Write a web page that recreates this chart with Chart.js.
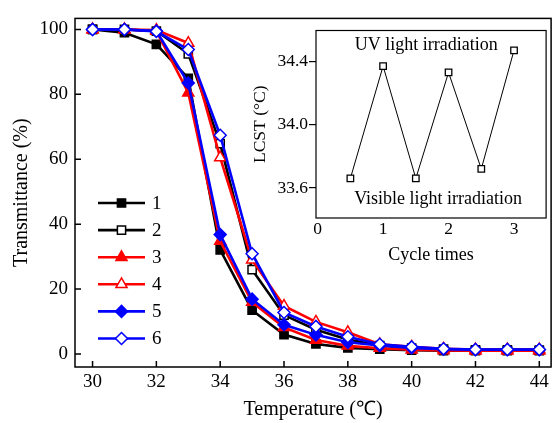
<!DOCTYPE html>
<html>
<head>
<meta charset="utf-8">
<script src="https://cdn.jsdelivr.net/npm/chart.js@4.4.0/dist/chart.umd.min.js"></script>
<style>
  html, body { margin: 0; padding: 0; background: #fff; }
  #wrap { position: relative; width: 559px; height: 423px; }
  #main { position: absolute; left: 0; top: 0; width: 559px; height: 423px; }
  #inset { position: absolute; left: 240px; top: 19px; width: 312px; height: 256px; }
</style>
</head>
<body>
<div id="wrap">
  <canvas id="main" width="559" height="423"></canvas>
  <canvas id="inset" width="312" height="256"></canvas>
</div>
<script>
// Data
const temps = [30, 31, 32, 33, 34, 35, 36, 37, 38, 39, 40, 41, 42, 43, 44];
const s1 = [100, 99, 95.4, 84.9, 32.1, 13.5, 6.0, 3.1, 1.9, 1.5, 1.2, 1.0, 1.0, 1.0, 1.0];
const s2 = [100, 100, 99.5, 92.5, 64.8, 26.0, 12.0, 7.5, 4.5, 2.6, 1.8, 1.5, 1.3, 1.3, 1.2];
const s3 = [100, 100, 99.5, 80.5, 34.8, 16.0, 8.2, 4.3, 2.5, 1.8, 1.3, 1.1, 1.0, 1.0, 1.0];
const s4 = [100, 100, 99.8, 95.8, 60.5, 29.0, 14.8, 9.9, 6.7, 3.0, 2.2, 1.6, 1.4, 1.4, 1.4];
const s5 = [100, 100, 99.5, 83.5, 36.8, 16.9, 9.0, 5.9, 3.6, 2.6, 1.9, 1.5, 1.3, 1.3, 1.3];
const s6 = [100, 100, 99.4, 93.8, 67.4, 30.9, 12.8, 8.5, 5.3, 3.0, 2.2, 1.6, 1.4, 1.4, 1.4];
const seriesNames = ["1", "2", "3", "4", "5", "6"];
const xTicks = [30, 32, 34, 36, 38, 40, 42, 44];
const yTicks = [0, 20, 40, 60, 80, 100];

const cycles = [0.5, 1, 1.5, 2, 2.5, 3];
const lcst = [33.66, 34.37, 33.66, 34.33, 33.72, 34.47];
const cycleTicks = [0, 1, 2, 3];
const lcstTicks = [33.6, 34.0, 34.4];

const FONT = "'Liberation Serif', 'Times New Roman', serif";
Chart.defaults.font.family = FONT;
Chart.defaults.color = "#000";

// marker look per series
const looks = [
  { color: "#000000", shape: "rect", filled: true, r: 5.8 },
  { color: "#000000", shape: "rect", filled: false, r: 5.8 },
  { color: "#ff0000", shape: "triangle", filled: true, r: 6.4 },
  { color: "#ff0000", shape: "triangle", filled: false, r: 6.4 },
  { color: "#0000ff", shape: "rectRot", filled: true, r: 6 },
  { color: "#0000ff", shape: "rectRot", filled: false, r: 6 }
];

function drawMarker(ctx, look, x, y) {
  const r = look.r;
  ctx.beginPath();
  if (look.shape === "rect") {
    const s = r * Math.SQRT1_2;
    ctx.rect(x - s, y - s, 2 * s, 2 * s);
  } else if (look.shape === "triangle") {
    for (let k = 0; k < 3; k++) {
      const a = k * 2 * Math.PI / 3;
      const px = x + Math.sin(a) * r, py = y - Math.cos(a) * r;
      if (k === 0) ctx.moveTo(px, py); else ctx.lineTo(px, py);
    }
    ctx.closePath();
  } else {
    ctx.moveTo(x, y - r); ctx.lineTo(x + r, y); ctx.lineTo(x, y + r); ctx.lineTo(x - r, y);
    ctx.closePath();
  }
  ctx.fillStyle = look.filled ? look.color : "#fff";
  ctx.fill();
  ctx.lineWidth = 1.5;
  ctx.strokeStyle = look.color;
  ctx.stroke();
}

const allSeries = [s1, s2, s3, s4, s5, s6];
const datasets = allSeries.map((s, i) => ({
  label: seriesNames[i],
  data: temps.map((t, j) => ({ x: t, y: s[j] })),
  borderColor: looks[i].color,
  borderWidth: 2.6,
  tension: 0,
  pointStyle: looks[i].shape,
  pointRadius: looks[i].r,
  pointBackgroundColor: looks[i].filled ? looks[i].color : "#fff",
  pointBorderColor: looks[i].color,
  pointBorderWidth: 1.5,
  order: 6 - i
}));

// frame, inward ticks and legend for the main plot
const mainDecor = {
  id: "mainDecor",
  afterDraw(chart) {
    const { ctx, chartArea: a, scales } = chart;
    ctx.save();
    ctx.strokeStyle = "#000";
    ctx.lineWidth = 1.5;
    ctx.strokeRect(a.left, a.top, a.right - a.left, a.bottom - a.top);
    ctx.beginPath();
    xTicks.forEach(v => {
      const px = scales.x.getPixelForValue(v);
      ctx.moveTo(px, a.bottom); ctx.lineTo(px, a.bottom - 6);
    });
    yTicks.forEach(v => {
      const py = scales.y.getPixelForValue(v);
      ctx.moveTo(a.left, py); ctx.lineTo(a.left + 6, py);
    });
    ctx.stroke();

    // legend
    ctx.font = "19px " + FONT;
    ctx.textBaseline = "middle";
    ctx.textAlign = "left";
    seriesNames.forEach((name, i) => {
      const y = 203 + i * 27.1;
      ctx.beginPath();
      ctx.strokeStyle = looks[i].color;
      ctx.lineWidth = 2.6;
      ctx.moveTo(98, y); ctx.lineTo(145, y);
      ctx.stroke();
      drawMarker(ctx, looks[i], 121.5, y);
      ctx.fillStyle = "#000";
      ctx.fillText(name, 152, y + 1);
    });
    ctx.restore();
  }
};

new Chart(document.getElementById("main"), {
  type: "line",
  data: { datasets },
  options: {
    responsive: false,
    animation: false,
    layout: { padding: { left: 10, top: 17, right: 3, bottom: 0 } },
    plugins: { legend: { display: false }, tooltip: { enabled: false } },
    scales: {
      x: {
        type: "linear",
        min: 29.45,
        max: 44.37,
        afterBuildTicks: s => { s.ticks = xTicks.map(v => ({ value: v })); },
        afterFit: s => { s.height = 56; },
        grid: { display: false, drawTicks: false },
        border: { display: false },
        ticks: { font: { size: 19 }, padding: 4, color: "#000", maxRotation: 0 },
        title: { display: true, text: "Temperature (℃)", font: { size: 20 }, padding: { top: 0, bottom: 1 }, color: "#000" }
      },
      y: {
        min: -4,
        max: 103.4,
        afterBuildTicks: s => { s.ticks = yTicks.map(v => ({ value: v })); },
        afterFit: s => { s.width = 65; },
        grid: { display: false, drawTicks: false },
        border: { display: false },
        ticks: { font: { size: 19 }, padding: 7, color: "#000" },
        title: { display: true, text: "Transmittance (%)", font: { size: 20 }, padding: { top: 0, bottom: 0 }, color: "#000" }
      }
    }
  },
  plugins: [mainDecor]
});

// inset: white box, frame and annotations
const insetDecor = {
  id: "insetDecor",
  beforeDraw(chart) {
    const { ctx, chartArea: a } = chart;
    ctx.save();
    ctx.fillStyle = "#fff";
    ctx.fillRect(a.left, a.top, a.right - a.left, a.bottom - a.top);
    ctx.restore();
  },
  afterDraw(chart) {
    const { ctx, chartArea: a, scales } = chart;
    ctx.save();
    ctx.strokeStyle = "#000";
    ctx.lineWidth = 1.2;
    ctx.strokeRect(a.left, a.top, a.right - a.left, a.bottom - a.top);
    ctx.fillStyle = "#000";
    ctx.font = "18px " + FONT;
    ctx.textAlign = "center";
    ctx.textBaseline = "middle";
    ctx.fillText("UV light irradiation", scales.x.getPixelForValue(1.66), scales.y.getPixelForValue(34.503));
    ctx.fillText("Visible light irradiation", scales.x.getPixelForValue(1.84), scales.y.getPixelForValue(33.53));
    ctx.restore();
  }
};

new Chart(document.getElementById("inset"), {
  type: "line",
  data: {
    datasets: [{
      data: cycles.map((c, i) => ({ x: c, y: lcst[i] })),
      borderColor: "#000",
      borderWidth: 1,
      tension: 0,
      pointStyle: "rect",
      pointRadius: 4.6,
      pointBackgroundColor: "#fff",
      pointBorderColor: "#000",
      pointBorderWidth: 1.3
    }]
  },
  options: {
    responsive: false,
    animation: false,
    layout: { padding: { left: 0, top: 4, right: 2, bottom: 0 } },
    plugins: { legend: { display: false }, tooltip: { enabled: false } },
    scales: {
      x: {
        type: "linear",
        min: -0.025,
        max: 3.49,
        afterBuildTicks: s => { s.ticks = cycleTicks.map(v => ({ value: v })); },
        afterFit: s => { s.height = 57; },
        grid: { display: false, drawTicks: false },
        border: { display: false },
        ticks: { font: { size: 17.5 }, padding: 1, color: "#000", maxRotation: 0 },
        title: { display: true, text: "Cycle times", font: { size: 18 }, padding: { top: 0, bottom: 9 }, color: "#000" }
      },
      y: {
        min: 33.41,
        max: 34.595,
        afterBuildTicks: s => { s.ticks = lcstTicks.map(v => ({ value: v })); },
        afterFit: s => { s.width = 76; },
        grid: { display: true, drawOnChartArea: false, drawTicks: true, tickLength: 7, color: "#000", lineWidth: 1.2 },
        border: { display: false },
        ticks: { font: { size: 17.5 }, padding: 1, color: "#000", callback: v => v.toFixed(1) },
        title: { display: true, text: "LCST (°C)", font: { size: 17.5 }, padding: { top: 10, bottom: 0 }, color: "#000" }
      }
    }
  },
  plugins: [insetDecor]
});
</script>
</body>
</html>
